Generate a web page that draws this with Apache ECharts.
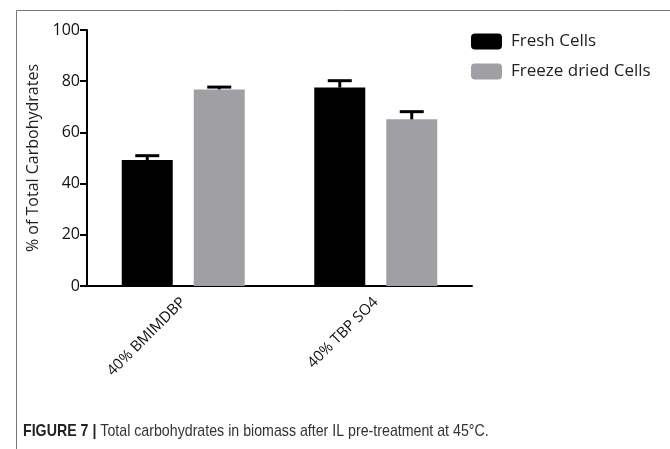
<!DOCTYPE html>
<html>
<head>
<meta charset="utf-8">
<script src="https://cdn.jsdelivr.net/npm/echarts@6/dist/echarts.min.js"></script>
<style>
  html, body { margin: 0; padding: 0; background: #fff; }
  #chart { width: 670px; height: 449px; }
</style>
</head>
<body>
<div id="chart"></div>
<script>
// Treatments on the category axis
var categories = ['40% BMIMDBP', '40% TBP SO4'];
// Mean % of total carbohydrates and upper error (SD) for each cell type
var freshCells = [49.2, 77.5];
var freshErr = [1.7, 2.7];
var freezeDried = [76.8, 65.1];
var freezeErr = [0.9, 3.0];
var yTicks = { min: 0, max: 100, interval: 20 };

var BAR_W = 51;
var BAR_GAP = 21;

var chart = echarts.init(document.getElementById('chart'));

// Upper whisker + cap drawn above each bar, shifted to the bar's slot
function errorSeries(name, means, errs, side) {
  var data = means.map(function (m, i) { return [i, m, m + errs[i]]; });
  return {
    type: 'custom',
    name: name + ' err',
    z: 5,
    silent: true,
    data: data,
    encode: { x: 0, y: [1, 2] },
    renderItem: function (params, api) {
      var shift = side * (BAR_W + BAR_GAP) / 2;
      var base = api.coord([api.value(0), api.value(1)]);
      var top = api.coord([api.value(0), api.value(2)]);
      var x = base[0] + shift;
      var capHalf = 12;
      return {
        type: 'group',
        children: [
          { type: 'line', shape: { x1: x, y1: base[1], x2: x, y2: top[1] },
            style: { stroke: '#000', lineWidth: 3 } },
          { type: 'line', shape: { x1: x - capHalf, y1: top[1], x2: x + capHalf, y2: top[1] },
            style: { stroke: '#000', lineWidth: 3 } }
        ]
      };
    }
  };
}

var axisFont = { fontFamily: 'Open Sans', fontSize: 16, color: '#111' };

chart.setOption({
  animation: false,
  backgroundColor: '#fff',
  grid: { left: 87, right: 198, top: 30, bottom: 163 },
  legend: {
    orient: 'vertical',
    left: 466,
    top: 28,
    itemWidth: 31,
    itemHeight: 16,
    itemGap: 13,
    selectedMode: false,
    data: ['Fresh Cells', 'Freeze dried Cells'],
    textStyle: { fontFamily: 'Open Sans', fontSize: 17, color: '#222', padding: [0, 0, 0, 4] },
    itemStyle: { borderRadius: 3 }
  },
  xAxis: {
    type: 'category',
    data: categories,
    axisLine: { lineStyle: { color: '#000', width: 2 } },
    axisTick: { alignWithLabel: true, length: 7, lineStyle: { color: '#000', width: 2 } },
    axisLabel: Object.assign({ rotate: 45, margin: 14, interval: 0 }, axisFont, { fontSize: 15 })
  },
  yAxis: {
    type: 'value',
    min: yTicks.min,
    max: yTicks.max,
    interval: yTicks.interval,
    name: '% of Total Carbohydrates',
    nameLocation: 'middle',
    nameGap: 40,
    nameTextStyle: { fontFamily: 'Open Sans', fontSize: 16, color: '#222' },
    splitLine: { show: false },
    axisLine: { show: true, lineStyle: { color: '#000', width: 2 } },
    axisTick: { show: true, length: 7, lineStyle: { color: '#000', width: 2 } },
    axisLabel: Object.assign({ margin: 7 }, axisFont)
  },
  series: [
    {
      type: 'bar', name: 'Fresh Cells', data: freshCells,
      barWidth: BAR_W, barGap: (BAR_GAP / BAR_W * 100) + '%',
      itemStyle: { color: '#000' }
    },
    {
      type: 'bar', name: 'Freeze dried Cells', data: freezeDried,
      barWidth: BAR_W,
      itemStyle: { color: '#a0a0a4' }
    },
    errorSeries('Fresh Cells', freshCells, freshErr, -1),
    errorSeries('Freeze dried Cells', freezeDried, freezeErr, 1)
  ],
  graphic: [
    { type: 'rect', left: 14, top: 8, shape: { width: 654, height: 460 },
      style: { fill: null, stroke: '#777', lineWidth: 1 }, silent: true },
    { type: 'text', x: 23, y: 423, scaleX: 0.835,
      style: {
        text: '{b|FIGURE 7 |} Total carbohydrates in biomass after IL pre-treatment at 45°C.',
        fontFamily: 'Liberation Sans', fontSize: 17, fill: '#333',
        rich: { b: { fontFamily: 'Liberation Sans', fontSize: 17, fontWeight: 'bold', fill: '#222' } }
      } }
  ]
});
</script>
</body>
</html>
